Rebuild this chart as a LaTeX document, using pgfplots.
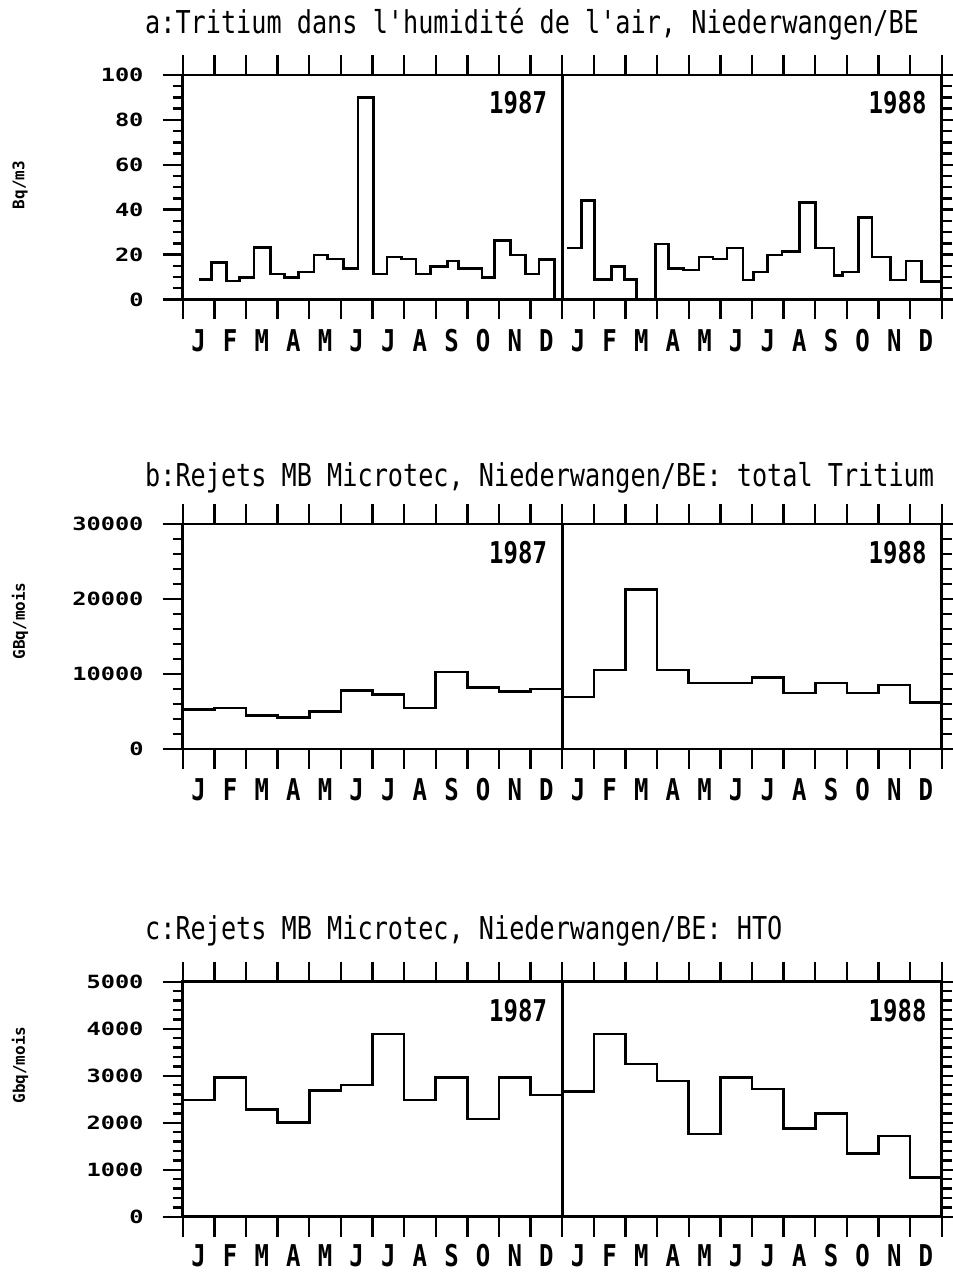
\documentclass[border=0pt]{standalone}
\usepackage{pgfplots}
\pgfplotsset{compat=1.18}
\usepackage{fontspec}
\newfontfamily\narrowmono[FakeStretch=0.8]{DejaVu Sans Mono}
\newfontfamily\widemono[FakeStretch=1.3]{DejaVu Sans Mono}
\newfontfamily\plainmono{DejaVu Sans Mono}
\newcommand\titlefont{\narrowmono\fontsize{31.5}{32}\selectfont}
\newcommand\yearfont{\narrowmono\bfseries\fontsize{30}{30}\selectfont}
\newcommand\monthfont{\narrowmono\bfseries\fontsize{30}{30}\selectfont}
\newcommand\tickfont{\widemono\bfseries\fontsize{18.2}{18}\selectfont}
\newcommand\ylabfont{\plainmono\bfseries\fontsize{16}{16}\selectfont}
\pgfplotsset{
 panel/.style={
  scale only axis, width=759pt, xmin=0, xmax=24, clip=false, ymin=0,
  axis line style={line width=2.6pt},
  tick style={black, line width=2.4pt},
  xtick style={black, line width=2.4pt},
  ytick style={black, line width=2.4pt},
  tick align=outside,
  major tick length=20pt, minor tick length=10pt,
  xtick={0,...,24},
  xticklabels={J,F,M,A,M,J,J,A,S,O,N,D,J,F,M,A,M,J,J,A,S,O,N,D},
  x tick label as interval,
  xticklabel style={font=\monthfont, inner sep=0pt, anchor=base, yshift=-32pt},
  yticklabel style={font=\tickfont, inner sep=0pt, xshift=-19pt},
  /pgf/number format/assume math mode=true,
  /pgf/number format/1000 sep={},
  scaled y ticks=false,
 },
 stepline/.style={const plot, line width=2.6pt, black, mark=none},
}
\begin{document}
\begin{tikzpicture}
\path[use as bounding box] (0pt,0pt) rectangle (953pt,1272pt);
% titles
\node[font=\titlefont, anchor=base west, inner sep=0pt] at (145pt,1238pt) {a:Tritium dans l'humidité de l'air, Niederwangen/BE};
\node[font=\titlefont, anchor=base west, inner sep=0pt] at (145pt,785pt) {b:Rejets MB Microtec, Niederwangen/BE: total Tritium};
\node[font=\titlefont, anchor=base west, inner sep=0pt] at (145pt,332pt) {c:Rejets MB Microtec, Niederwangen/BE: HTO};
% y labels
\node[font=\ylabfont, rotate=90, inner sep=0pt] at (20pt,1087pt) {Bq/m3};
\node[font=\ylabfont, rotate=90, inner sep=0pt] at (20pt,651pt) {GBq/mois};
\node[font=\ylabfont, rotate=90, inner sep=0pt] at (20pt,207pt) {Gbq/mois};
% panel a
\begin{axis}[panel, at={(182.7pt,972.5pt)}, anchor=south west, height=224.5pt,
  ymax=100, ytick={0,20,...,100}, minor y tick num=3]
\addplot[stepline] coordinates {
(0.53,8.9) (0.92,16.5) (1.38,8.2) (1.80,9.8) (2.26,23.2) (2.77,11.4) (3.22,9.7) (3.67,12.2)
(4.15,19.8) (4.57,18.1) (5.08,13.8) (5.54,89.9) (6.03,11.4) (6.46,18.9) (6.92,18.0) (7.38,11.3)
(7.83,14.6) (8.38,17.2) (8.72,13.8) (9.46,9.7) (9.86,26.3) (10.37,19.8) (10.84,11.3) (11.26,17.8)
(11.75,0) (11.75,0)};
\addplot[stepline] coordinates {
(12.16,23.0) (12.61,44.0) (13.03,8.9) (13.56,14.6) (13.97,8.9) (14.35,0) (14.95,24.8) (15.37,13.8)
(15.84,13.1) (16.32,18.9) (16.77,18.0) (17.21,23.0) (17.72,8.6) (18.05,12.2) (18.49,19.8) (18.95,21.5)
(19.51,43.1) (20.00,23.0) (20.60,10.8) (20.86,12.2) (21.37,36.4) (21.79,18.9) (22.39,8.6) (22.87,17.1)
(23.37,7.9) (24.0,7.9)};
\draw[line width=2.6pt] (rel axis cs:0.5,0) -- (rel axis cs:0.5,1);
\node[font=\yearfont, anchor=base east, inner sep=0pt] at ([xshift=-15pt,yshift=-39pt]rel axis cs:0.5,1) {1987};
\node[font=\yearfont, anchor=base east, inner sep=0pt] at ([xshift=-15pt,yshift=-39pt]rel axis cs:1,1) {1988};
\end{axis}
% panel b
\begin{axis}[panel, at={(182.7pt,523pt)}, anchor=south west, height=225pt,
  ymax=30000, ytick={0,10000,20000,30000}, minor y tick num=4]
\addplot[stepline] coordinates {
(0,5240) (1,5460) (2,4440) (3,4220) (4,5020) (5,7770) (6,7230) (7,5460) (8,10250) (9,8210) (10,7680) (11,7990)
(12,6920) (13,10520) (14,21300) (15,10520) (16,8790) (17,8790) (18,9540) (19,7460) (20,8790) (21,7460) (22,8520) (23,6210)
(24,6210)};
\draw[line width=2.6pt] (rel axis cs:0.5,0) -- (rel axis cs:0.5,1);
\node[font=\yearfont, anchor=base east, inner sep=0pt] at ([xshift=-15pt,yshift=-40pt]rel axis cs:0.5,1) {1987};
\node[font=\yearfont, anchor=base east, inner sep=0pt] at ([xshift=-15pt,yshift=-40pt]rel axis cs:1,1) {1988};
\end{axis}
% panel c
\begin{axis}[panel, at={(182.7pt,55.3pt)}, anchor=south west, height=235pt,
  ymax=5000, ytick={0,1000,...,5000}, minor y tick num=4,
  xticklabel style={yshift=2pt}]
\addplot[stepline] coordinates {
(0,2480) (1,2960) (2,2280) (3,2000) (4,2680) (5,2800) (6,3890) (7,2480) (8,2960) (9,2080) (10,2960) (11,2590)
(12,2670) (13,3890) (14,3250) (15,2890) (16,1760) (17,2960) (18,2720) (19,1880) (20,2200) (21,1350) (22,1720) (23,830)
(24,830)};
\draw[line width=2.6pt] (rel axis cs:0.5,0) -- (rel axis cs:0.5,1);
\node[font=\yearfont, anchor=base east, inner sep=0pt] at ([xshift=-15pt,yshift=-40pt]rel axis cs:0.5,1) {1987};
\node[font=\yearfont, anchor=base east, inner sep=0pt] at ([xshift=-15pt,yshift=-40pt]rel axis cs:1,1) {1988};
\end{axis}
\end{tikzpicture}
\end{document}
